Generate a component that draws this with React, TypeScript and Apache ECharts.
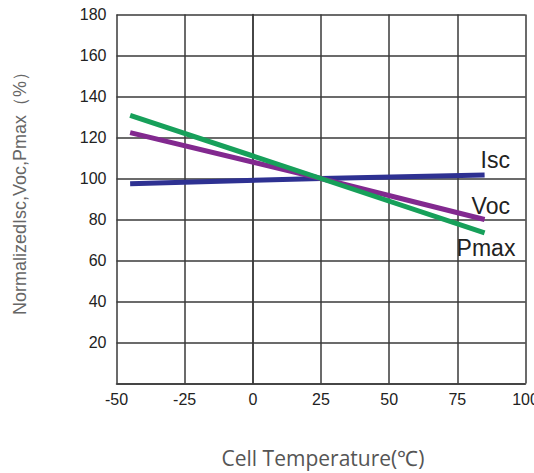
import React, { useEffect, useRef } from "react";
import * as echarts from "echarts";

const temps = [-45, 25, 85];
const isc = [97.4, 100, 101.7];
const voc = [122.4, 100, 80];
const pmax = [130.8, 100, 73.5];
const xTicks = [-50, -25, 0, 25, 50, 75, 100];
const yTicks = [0, 20, 40, 60, 80, 100, 120, 140, 160, 180];

const toPairs = (ys: number[]) => temps.map((t, i) => [t, ys[i]]);

export default function App() {
  const ref = useRef<HTMLDivElement>(null);
  useEffect(() => {
    if (!ref.current) return;
    const chart = echarts.init(ref.current, null, { renderer: "svg" });
    const gridColor = "#3a3a3a";
    const mkSeries = (name: string, ys: number[], color: string, dx: number, dy: number) => ({
      type: "line",
      name,
      data: toPairs(ys),
      symbol: "none",
      lineStyle: { color, width: 5 },
      endLabel: {
        show: true,
        formatter: name,
        color: "#222",
        fontFamily: "Liberation Sans, Arial, sans-serif",
        fontSize: 23,
        offset: [dx, dy],
        align: "left",
      },
    });
    chart.setOption({
      animation: false,
      grid: {
        left: 116.5,
        top: 14.5,
        right: 8.5,
        bottom: 89.5,
        containLabel: false,
        outerBoundsMode: "none",
      },
      graphic: [
        {
          type: "text",
          x: 20,
          y: 189,
          rotation: Math.PI / 2,
          style: {
            text: "NormalizedIsc,Voc,Pmax（%）",
            fill: "#666",
            fontSize: 18,
            fontFamily: "Liberation Sans, Arial, sans-serif",
            align: "center",
            verticalAlign: "middle",
          },
        },
        {
          type: "text",
          x: 323,
          y: 458,
          style: {
            text: "Cell Temperature(℃)",
            fill: "#555",
            fontSize: 21,
            fontFamily: "Open Sans, sans-serif",
            align: "center",
            verticalAlign: "middle",
          },
        },
      ],
      xAxis: {
        type: "value",
        min: xTicks[0],
        max: xTicks[xTicks.length - 1],
        interval: 25,
        axisLine: { show: true, lineStyle: { color: gridColor, width: 1.5 } },
        axisTick: { show: false },
        splitLine: { show: true, lineStyle: { color: gridColor, width: 1.5 } },
        axisLabel: { color: "#222", fontSize: 16, fontFamily: "Liberation Sans, Arial, sans-serif", margin: 8 },
      },
      yAxis: {
        type: "value",
        min: yTicks[0],
        max: yTicks[yTicks.length - 1],
        interval: 20,
        axisLine: { show: true, lineStyle: { color: gridColor, width: 1.5 } },
        axisTick: { show: false },
        splitLine: { show: true, lineStyle: { color: gridColor, width: 1.5 } },
        axisLabel: {
          color: "#222",
          fontSize: 16,
          fontFamily: "Liberation Sans, Arial, sans-serif",
          margin: 10,
          formatter: (v: number) => (v === 0 ? "" : String(v)),
        },
      },
      series: [
        mkSeries("Isc", isc, "#2e3192", -12, -15),
        mkSeries("Voc", voc, "#82298f", -21, -14),
        mkSeries("Pmax", pmax, "#17a05a", -36, 15),
      ],
    });
    return () => chart.dispose();
  }, []);
  return (
    <div
      ref={ref}
      style={{ position: "fixed", left: 0, top: 0, width: 534, height: 473, background: "#fff" }}
    />
  );
}
